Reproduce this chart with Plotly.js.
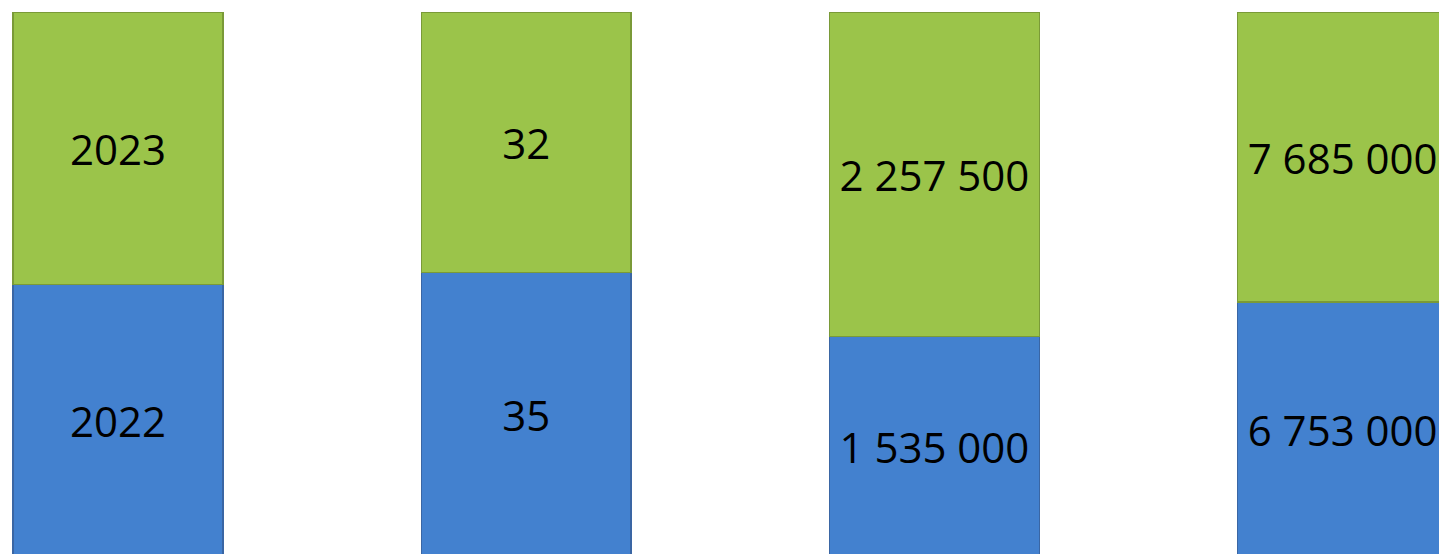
<!DOCTYPE html>
<html>
<head>
<meta charset="utf-8">
<script src="https://cdn.plot.ly/plotly-3.0.1.min.js"></script>
<style>html,body{margin:0;padding:0;background:#fff;}#chart{width:1439px;height:554px;}</style>
</head>
<body>
<div id="chart"></div>
<script>
const categories = ['Year', 'Count', 'Amount A', 'Amount B'];
const values2022 = [2022, 35, 1535000, 6753000];
const values2023 = [2023, 32, 2257500, 7685000];
const labels2022 = ['2022', '35', '1 535 000', '6 753 000'];
const labels2023 = ['2023', '32', '2 257 500', '7 685 000'];

const textFont = {family: 'Open Sans, DejaVu Sans, sans-serif', size: 42, color: '#000000'};

const traces = [
  {
    type: 'bar', x: categories, y: values2022, name: '2022',
    text: labels2022, textposition: 'inside', insidetextanchor: 'middle',
    textfont: textFont, constraintext: 'none',
    marker: {color: '#4381cf', line: {color: '#3a66a4', width: 1.5}},
    hoverinfo: 'none'
  },
  {
    type: 'bar', x: categories, y: values2023, name: '2023',
    text: labels2023, textposition: 'inside', insidetextanchor: 'middle',
    textfont: textFont, constraintext: 'none',
    marker: {color: '#9bc44a', line: {color: '#7a9a38', width: 1.5}},
    hoverinfo: 'none'
  }
];

const layout = {
  width: 1439, height: 554,
  margin: {l: 0, r: 0, t: 12, b: 0, pad: 0},
  barmode: 'stack', barnorm: 'fraction',
  bargap: 0.486,
  showlegend: false,
  paper_bgcolor: '#ffffff', plot_bgcolor: '#ffffff',
  xaxis: {type: 'category', range: [-0.289, 3.236], showgrid: false, zeroline: false, showticklabels: false, showline: false, ticks: ''},
  yaxis: {range: [0.0055, 1], showgrid: false, zeroline: false, showticklabels: false, showline: false, ticks: ''}
};

Plotly.newPlot('chart', traces, layout, {staticPlot: true, displayModeBar: false});
</script>
</body>
</html>
